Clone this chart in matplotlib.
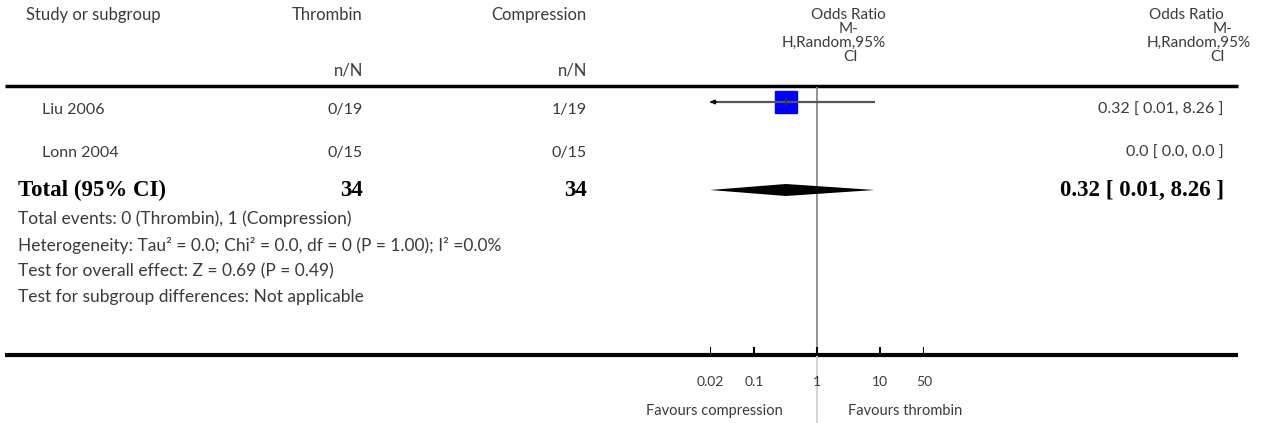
import numpy as np
import matplotlib
matplotlib.use('Agg')
import matplotlib.pyplot as plt

# ---- data ----
studies = ['Liu 2006', 'Lonn 2004']
thr_n = [0, 0]
thr_N = [19, 15]
comp_n = [1, 0]
comp_N = [19, 15]
or_est = [0.32, np.nan]
or_lo = [0.01, np.nan]
or_hi = [8.26, np.nan]
or_txt = ['0.32 [ 0.01, 8.26 ]', '0.0 [ 0.0, 0.0 ]']
tot_thr, tot_comp = 34, 34
tot_est, tot_lo, tot_hi = 0.32, 0.01, 8.26
tot_txt = '0.32 [ 0.01, 8.26 ]'
footer = ['Total events: 0 (Thrombin), 1 (Compression)',
          'Heterogeneity: Tau\u00b2 = 0.0; Chi\u00b2 = 0.0, df = 0 (P = 1.00); I\u00b2 =0.0%',
          'Test for overall effect: Z = 0.69 (P = 0.49)',
          'Test for subgroup differences: Not applicable']
ticks = [0.02, 0.1, 1, 10, 50]
tick_labels = ['0.02', '0.1', '1', '10', '50']
fav_left, fav_right = 'Favours compression', 'Favours thrombin'

# ---- layout (pixels) ----
W, H = 1266, 423
SANS = ['Lato', 'DejaVu Sans']
SERIF = ['Liberation Serif', 'DejaVu Serif']
TXT = '#3a3a3a'
fs = 11.5

fig = plt.figure(figsize=(W / 100, H / 100), dpi=100)
ax = fig.add_axes([0, 0, 1, 1])
ax.set_xlim(0, W)
ax.set_ylim(H, 0)
ax.axis('off')

# forest panel: log axis, 0.02 .. 50
fx0, fx1 = 710, 924
fax = fig.add_axes([fx0 / W, 0, (fx1 - fx0) / W, 1])
fax.set_xscale('log')
fax.set_xlim(ticks[0], ticks[-1])
fax.set_ylim(H, 0)
fax.axis('off')

def t(x, y, s, ha='left', **kw):
    kw.setdefault('family', SANS)
    kw.setdefault('fontsize', fs)
    kw.setdefault('color', TXT)
    ax.text(x, y, s, ha=ha, va='center', **kw)

def tb(x, y, s, ha='left'):
    ax.text(x, y, s, ha=ha, va='center', family=SERIF, fontweight='bold',
            fontsize=16.5, color='black')

# header
t(26, 15, 'Study or subgroup', fontsize=12)
t(363, 15, 'Thrombin', ha='right', fontsize=12)
t(587, 15, 'Compression', ha='right', fontsize=12)
t(363, 70, 'n/N', ha='right', fontsize=12)
t(587, 70, 'n/N', ha='right', fontsize=12)
for yy, s, xm, xr in [(15, 'Odds Ratio', 886, 1224), (29, 'M-', 858, 1233),
                      (43, 'H,Random,95%', 886, 1251), (57, 'CI', 858, 1225)]:
    t(xm, yy, s, ha='right', fontsize=11)
    t(xr, yy, s, ha='right', fontsize=11)

ax.hlines(86, 5, 1238, color='black', lw=2.5)

# study rows
row_y = [110, 153]
ci_y = [102, 145]
xmin, xmax = ticks[0], ticks[-1]
for i, name in enumerate(studies):
    y = row_y[i]
    t(42, y, name)
    t(363, y, f'{thr_n[i]}/{thr_N[i]}', ha='right')
    t(587, y, f'{comp_n[i]}/{comp_N[i]}', ha='right')
    t(1224, y, or_txt[i], ha='right')
    if not np.isnan(or_est[i]):
        cy = ci_y[i]
        fax.plot(or_est[i], cy, marker='s', ms=15.8, color='#0000ff', mec='#0000ff', zorder=2)
        lo = max(or_lo[i], xmin)
        hi = min(or_hi[i], xmax)
        fax.plot([lo, hi], [cy, cy], color='#555555', lw=1.6, zorder=3, solid_capstyle='butt')
        if or_lo[i] < xmin:
            fax.annotate('', xy=(lo, cy), xytext=(lo * 1.25, cy),
                         arrowprops=dict(arrowstyle='-|>', color='black', lw=1.2,
                                         mutation_scale=6, shrinkA=0, shrinkB=0),
                         annotation_clip=False, zorder=4)
        fax.plot([or_est[i], or_est[i]], [cy - 3, cy + 3], color='#333333', lw=1.2, zorder=4)

# total row
ty = 190
tb(18, ty, 'Total (95% CI)')
tb(363, ty, str(tot_thr), ha='right')
tb(587, ty, str(tot_comp), ha='right')
tb(1224, ty, tot_txt, ha='right')
lo = max(tot_lo, xmin)
hi = min(tot_hi, xmax)
fax.fill([lo, tot_est, hi, tot_est], [ty, ty - 6, ty, ty + 6], color='black', lw=0, zorder=3)

# footer text
for k, s in enumerate(footer):
    t(18, 219 + 26 * k, s, fontsize=12.5)

# axis line, ticks, null line
ax.hlines(355, 5, 1238, color='black', lw=3)
fax.vlines(1, 87, 354, color='#8a8a8a', lw=1.3, zorder=1)
fax.vlines(1, 356, H, color='#d0d0d0', lw=1.3, zorder=1)
fax.vlines(ticks, 347, 355, color='black', lw=1.5)
for tv, tl in zip(ticks, tick_labels):
    fax.text(tv, 382, tl, ha='center', va='center', family=SANS, fontsize=10, color=TXT)
fax.text(0.29, 411, fav_left, ha='right', va='center', family=SANS, fontsize=10.5, color=TXT)
fax.text(3.1, 411, fav_right, ha='left', va='center', family=SANS, fontsize=10.5, color=TXT)

fig.savefig('out.png', dpi=100)
